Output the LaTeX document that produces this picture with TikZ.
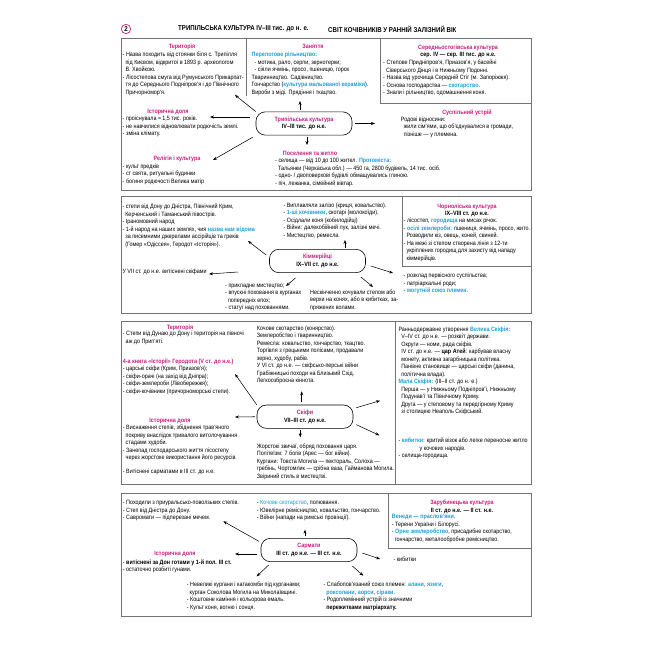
\documentclass[tikz,border=0pt]{standalone}
\usepackage{fontspec}
\setmainfont{Liberation Sans}[FakeStretch=0.87]
\usetikzlibrary{arrows.meta}
\definecolor{mag}{RGB}{196,30,128}
\definecolor{cyanblue}{RGB}{25,160,215}
\definecolor{framegray}{RGB}{115,115,115}
\newcommand{\ttl}[1]{\textcolor{mag}{\textbf{#1}}}
\newcommand{\hl}[1]{\textcolor{cyanblue}{\textbf{#1}}}
\newcommand{\ind}{\hspace*{2.4pt}}
\newcommand{\smalltxt}{\fontsize{5.3}{6.4}\selectfont}

\begin{document}
\begin{tikzpicture}[x=0.03cm, y=-0.03cm,
  txt/.style={anchor=north west, align=left, inner sep=0pt, font=\smalltxt},
  hd/.style={anchor=north, align=center, inner sep=0pt, font=\smalltxt},
  core/.style={draw, line width=0.5pt, rounded corners=8pt, minimum width=2.88cm,
    minimum height=0.7cm, align=center, inner sep=0pt, font=\smalltxt},
  frame/.style={draw=framegray, line width=0.7pt},
  arr/.style={-{Stealth[length=3.4pt, width=2.6pt]}, line width=0.45pt}]
\useasboundingbox (0,0) rectangle (650,650);

% header
\node[draw=mag, circle, line width=0.6pt, minimum size=0.28cm, inner sep=0pt,
  font=\bfseries\fontsize{6}{7}\selectfont] (num) at (126,29) {2};
\node[anchor=west, inner sep=0pt, font=\bfseries\fontsize{6}{7}\selectfont] (tit1) at (178,29)
  {ТРИПІЛЬСЬКА КУЛЬТУРА IV–III тис. до н. е.};
\node[anchor=west, inner sep=0pt, font=\bfseries\fontsize{6}{7}\selectfont] (tit2) at (328,29)
  {СВІТ КОЧІВНИКІВ У РАННІЙ ЗАЛІЗНИЙ ВІК};

% --- Trypillia ---
\draw[frame] (121.7,38.3) rectangle (531.7,190);
\draw[frame] (246.7,38.3) -- (246.7,96);
\draw[frame] (380,38.3) |- (531.7,103.3);

\node[hd] (terT) at (182,44) {\ttl{Територія}};
\node[txt] (terB) at (122.5,52) {- Назва походить від стоянки біля с. Трипілля\\
\ind під Києвом, відкритої в 1893 р. археологом\\
\ind В. Хвойкою.\\
- Лісостепова смуга від Румунського Прикарпат-\\
\ind тя до Середнього Подніпров'я і до Північного\\
\ind Причорномор'я.};

\node[hd] (zanT) at (313,44) {\ttl{Заняття}};
\node[txt] (zanB) at (251.5,52) {\hl{Перелогове рільництво:}\\
\ind - мотика, рало, серпи, зернотерки;\\
\ind - сіяли ячмінь, просо, пшеницю, горох\\
Тваринництво. Садівництво.\\
Гончарство (\hl{культура мальованої кераміки}).\\
Вироби з міді. Прядіння і ткацтво.};

\node[hd] (serT) at (458,44.3) {\ttl{Середньостогівська культура}\\
\textbf{сер. IV — сер. III тис. до н.е.}};
\node[txt] (serB) at (383,60) {- Степове Придніпров'я, Приазов'я, у басейні\\
\ind Сіверського Дінця і в Нижньому Подонні.\\
- Назва від урочища Середній Стіг (м. Запоріжжя).\\
- Основа господарства — \hl{скотарство}.\\
- Знали і рільництво, одомашнення коня.};

\node[core] (trip) at (304,123.5) {\ttl{Трипільська культура}\\\textbf{IV–III тис. до н.е.}};

\node[hd] (dolT) at (168,108.7) {\ttl{Історична доля}};
\node[txt] (dolB) at (122.5,116) {- проіснувала ≈ 1,5 тис. років.\\
- не навчилися відновлювати родючість землі.\\
- зміна клімату.};

\node[hd] (relT) at (177,156) {\ttl{Релігія і культура}};
\node[txt] (relB) at (122.5,163.7) {- культ предків\\
- ст свята, ритуальні будинки\\
- богиня родючості Велика матір};

\node[hd] (posT) at (310,151.3) {\ttl{Поселення та житло}};
\node[txt] (posB) at (275,158) {- селища — від 10 до 100 жител. \hl{Протоміста:}\\
\ind Тальянки (Черкаська обл.) — 450 га, 2800 будівель, 14 тис. осіб.\\
- одно- / двоповерхові будівлі обмащувались глиною.\\
- піч, лежанка, сімейний вівтар.};

\node[hd] (susT) at (467,109.3) {\ttl{Суспільний устрій}};
\node[txt] (susB) at (400.7,116.3) {Родові відносини:\\
\ind жили сім'ями, що об'єднувалися в громади,\\
\ind пізніше — у племена.};

\coordinate (tripU) at (300,101);
\coordinate (tripD) at (307,145);
\coordinate (tripR) at (375,123.5);
\coordinate (tripL) at (210,117);
\coordinate (tripUL) at (235,95);
\coordinate (tripDL) at (213,160);
\draw[arr, shorten <=1.5pt] (tripU |- trip.north) -- (tripU);
\draw[arr, shorten <=1.5pt] (tripD |- trip.south) -- (tripD);
\draw[arr, shorten <=2.5pt] (trip.east) -- (tripR);
\draw[arr, shorten <=5pt] (tripL -| trip.west) -- (tripL);
\draw[arr] (trip.north west) -- (tripUL);
\draw[arr, shorten <=3pt] (trip.south west) -- (tripDL);

% --- Cimmerians ---
\draw[frame] (121.7,196.7) rectangle (531.7,313.3);
\draw[frame] (402,196.7) |- (531.7,266.7);

\node[txt] (kimA) at (122.3,203.7) {- степи від Дону до Дністра, Північний Крим,\\
\ind Керченський і Таманський півострів.\\
- Іраномовний народ\\
- 1-й народ на наших землях, чия \hl{назва нам відома}\\
\ind за писемними джерелами ассірійців та греків\\
\ind (Гомер «Одіссея», Геродот «Історія»).};
\node[txt] (kimB) at (122.3,268.7) {У VII ст. до н.е. витіснені скіфами};

\node[txt] (kimC) at (283.3,202.7) {- Виплавляли залізо (криця, ковальство).\\
- \hl{1-ші кочівники}, скотарі (молокоїди).\\
- Осідлали коня (кобилодійці)\\
- Війни: далекобійний лук, залізні мечі.\\
- Мистецтво, ремесла.};

\node[hd] (chT) at (467,203.7) {\ttl{Чорноліська культура}\\\textbf{IX–VIII ст. до н.е.}};
\node[txt] (chB) at (403.5,218) {- лісостеп, \hl{городища} на мисах річок.\\
- \hl{осілі землероби:} пшениця, ячмінь, просо, жито.\\
\ind Розводили кіз, овець, коней, свиней.\\
- На межі зі степом створена лінія з 12-ти\\
\ind укріплених городищ для захисту від нападу\\
\ind кіммерійців.};

\node[core] (kim) at (317.5,261) {\ttl{Кіммерійці}\\\textbf{IX–VII ст. до н.е.}};

\node[txt] (kimD) at (225,283.7) {- прикладне мистецтво;\\
- впускні поховання в курганах\\
\ind попередніх епох;\\
- статуї над похованнями.};
\node[txt] (kimE) at (310,289.3) {Нескінченно кочували степом або\\
верхи на конях, або в кибитках, за-\\
пряжених волами.};
\node[txt] (kimF) at (403.5,273) {- розклад первісного суспільства;\\
- патріархальні роди;\\
- \hl{могутній союз племен.}};

\coordinate (kimU) at (345,240);
\coordinate (kimUL) at (248,241);
\coordinate (kimLt) at (238,272);
\coordinate (kimL) at (209,274);
\coordinate (kimDL) at (286,286);
\coordinate (kimDR) at (373,287);
\coordinate (kimR) at (393,273);
\draw[arr, shorten <=1pt] (kimU |- kim.north) -- (kimU);
\draw[arr] ([shift={(-3,6)}]kim.north west) -- (kimUL);
\draw[arr] (kimLt) -- (kimL);
\draw[arr] ([shift={(-22,5)}]kim.south) -- (kimDL);
\draw[arr] ([shift={(-5,4)}]kim.south east) -- (kimDR);
\draw[arr] ([shift={(5,5)}]kim.east) -- (kimR);

% --- Scythians ---
\draw[frame] (121.7,321.3) rectangle (531.7,484.7);
\draw[frame] (395,321.3) -- (395,484.7);

\node[hd] (skifT) at (180,325) {\ttl{Територія}};
\node[txt] (skifA) at (122.7,331) {- Степи від Дунаю до Дону і територія на півночі\\
\ind аж до Прип'яті.};
\node[txt] (skifB) at (122.7,358.3) {\ttl{4-а книга «Історії» Геродота (V ст. до н.е.)}\\
- царські скіфи (Крим, Приазов'я);\\
- скіфи-орачі (на захід від Дніпра);\\
- скіфи-землероби (Лівобережжя);\\
- скіфи-кочівники (причорноморські степи).};
\node[hd] (skifD) at (170,417.7) {\ttl{Історична доля}};
\node[txt] (skifE) at (122.7,425) {- Виснаження степів, збіднення трав'яного\\
\ind покриву внаслідок тривалого витолочування\\
\ind стадами худоби.\\
- Занепад господарського життя лісостепу\\
\ind через жорстоке використання його ресурсів.};
\node[txt] (skifF) at (122.7,468.3) {- Витіснені сарматами в III ст. до н.е.};

\node[txt] (skifC) at (256.7,325.7) {Кочове скотарство (конярство).\\
Землеробство і тваринництво.\\
Ремесла: ковальство, гончарство, ткацтво.\\
Торгівля з грецькими полісами, продавали\\
зерно, худобу, рабів.\\
У VI ст. до н.е. — скіфсько-перські війни\\
Грабіжницькі походи на Близький Схід.\\
Легкоозброєна кіннота.};

\node[core] (skif) at (305,416.7) {\ttl{Скіфи}\\\textbf{VII–III ст. до н.е.}};

\node[txt] (skifG) at (256.7,443.3) {Жорстокі звичаї, обряд поховання царя.\\
Політеїзм: 7 богів (Арес — бог війни).\\
Кургани: Товста Могила — пектораль, Солоха —\\
гребінь, Чортомлик — срібна ваза, Гайманова Могила.\\
Звіриний стиль в мистецтві.};

\node[txt] (skifH) at (398.3,326.7) {Ранньодержавне утворення \hl{Велика Скіфія:}\\
\ind V–IV ст. до н.е. — розквіт держави.\\
\ind Округи — номи, рада скіфів.\\
\ind IV ст. до н.е. — \textbf{цар Атей}: карбував власну\\
\ind монету, активна загарбницька політика.\\
\ind Панівне становище — царські скіфи (данина,\\
\ind політична влада).\\
\hl{Мала Скіфія:} (III–II ст. до н. е.)\\
\ind Перша — у Нижньому Подніпров'ї, Нижньому\\
\ind Подунав'ї та Північному Криму.\\
\ind Друга — у степовому та передгірному Криму\\
\ind зі столицею Неаполь Скіфський.};
\node[txt] (skifK) at (398.3,437.7) {- \hl{кибитки:} критий візок або легке переносне житло\\
\hspace*{18pt}у кочових народів.\\
- селища-городища.};

\coordinate (skifU) at (301.7,391.3);
\coordinate (skifDn) at (300.3,437.3);
\coordinate (skifL) at (235,417);
\coordinate (skifUL) at (235,374);
\coordinate (skifUR) at (380,400.7);
\coordinate (skifDR) at (379.3,435.3);
\draw[arr, shorten <=2pt] (skifU |- skif.north) -- (skifU);
\draw[arr, shorten <=1.5pt] (skifDn |- skif.south) -- (skifDn);
\draw[arr, shorten <=1.5pt] (skif.west) -- (skifL);
\draw[arr] (skif.north west) -- (skifUL);
\draw[arr] ([shift={(3,3)}]skif.north east) -- (skifUR);
\draw[arr] ([shift={(3,-4)}]skif.south east) -- (skifDR);

% --- Sarmatians ---
\draw[frame] (121.7,493) rectangle (531.7,616.7);
\draw[frame] (388.3,493) |- (531.7,548.7);

\node[txt] (sarmA) at (122.7,500) {- Походили з приуральсько-поволзьких степів.\\
- Степ від Дністра до Дону.\\
- Савромати — підперезані мечем.};
\node[txt] (sarmB) at (256.7,500) {- \textcolor{cyanblue}{Кочове скотарство}, полювання.\\
- Ювелірне ремісництво, ковальство, гончарство.\\
- Війни (напади на римські провінції).};

\node[hd] (zarT) at (462,500) {\ttl{Зарубинецька культура}\\\textbf{II ст. до н.е. — II ст. н.е.}};
\node[txt] (zarB) at (391.7,514.3) {\hl{Венеди — праслов'яни.}\\
- Терени України і Білорусі.\\
- \hl{Орне землеробство}, присадибне скотарство,\\
\ind гончарство, металообробне ремісництво.};

\node[core] (sarm) at (309,550) {\ttl{Сармати}\\\textbf{III ст. до н.е. — III ст. н.е.}};

\node[hd] (sarmT) at (175,551) {\ttl{Історична доля}};
\node[txt] (sarmC) at (122.7,559.3) {- \textbf{витіснені за Дон готами у 1-й пол. III ст.}\\
- остаточно розбиті гунами.};
\node[txt] (sarmD) at (393.3,556.7) {- кибитки};
\node[txt] (sarmE) at (186.7,582) {- Невеликі кургани і катакомби під курганами;\\
\ind курган Соколова Могила на Миколаївщині.\\
- Коштовне каміння і кольорова емаль.\\
- Культ коня, вогню і сонця.};
\node[txt] (sarmF) at (323.3,582) {- Слабопов'язаний союз племен: \hl{алани, язиги,}\\
\ind \hl{роксолани, аорси, сіраки.}\\
- Родоплемінний устрій із значними\\
\ind \textbf{пережитками матріархату.}};

\coordinate (sarmU) at (305,529.7);
\coordinate (sarmUL) at (223.3,521.3);
\coordinate (sarmL) at (235,554);
\coordinate (sarmDL) at (256.7,576.3);
\coordinate (sarmR) at (380,559);
\coordinate (sarmDR) at (363.3,575.7);
\draw[arr, shorten <=1.5pt] (sarmU |- sarm.north) -- (sarmU);
\draw[arr] ([shift={(-1.7,3.3)}]sarm.north west) -- (sarmUL);
\draw[arr, shorten <=3pt] (sarmL -| sarm.west) -- (sarmL);
\draw[arr] ([shift={(8,3)}]sarm.south west) -- (sarmDL);
\draw[arr] ([shift={(5,3)}]sarm.east) -- (sarmR);
\draw[arr] ([shift={(-5,4)}]sarm.south east) -- (sarmDR);
\end{tikzpicture}
\end{document}
